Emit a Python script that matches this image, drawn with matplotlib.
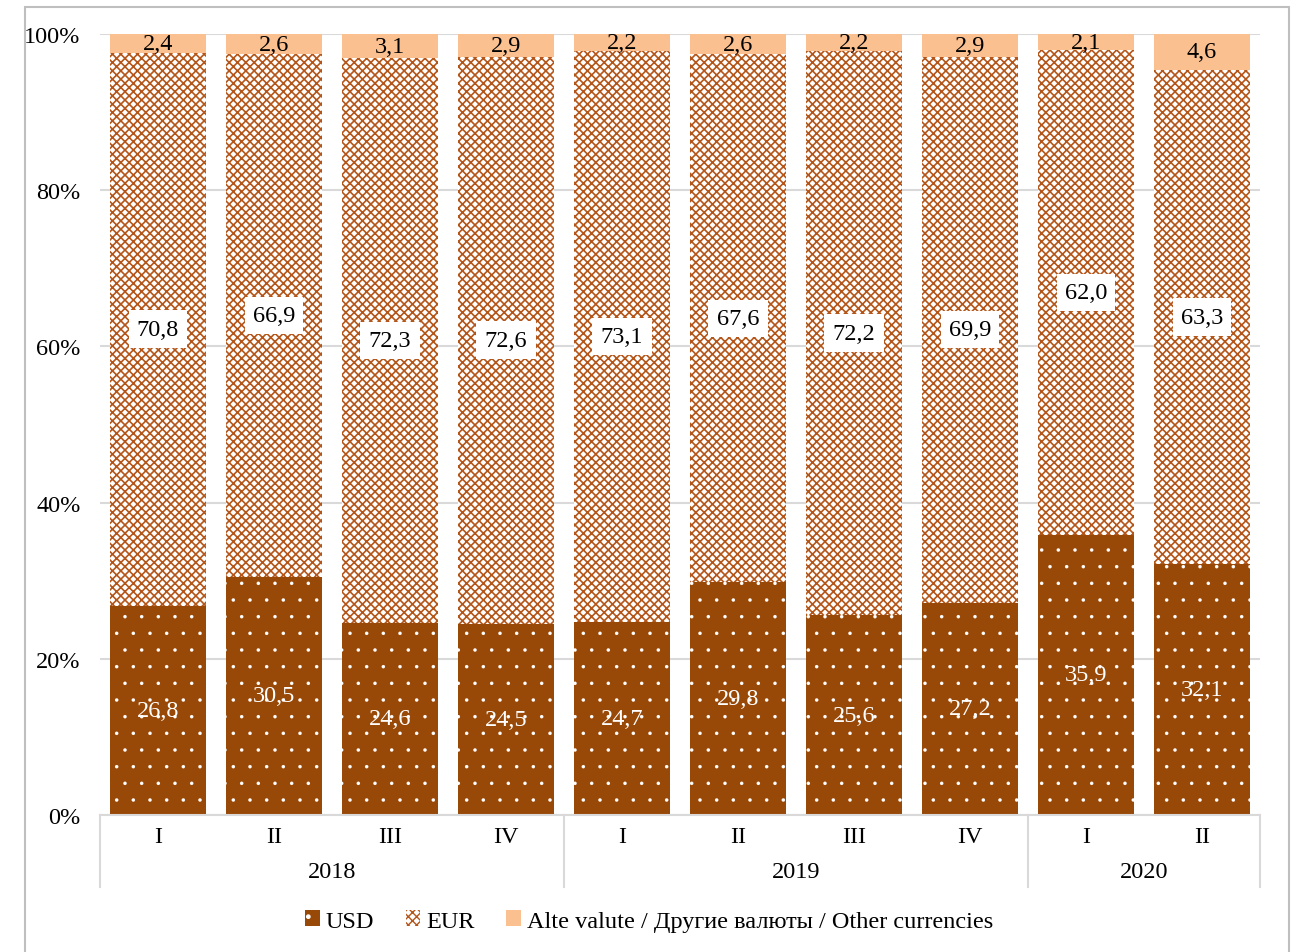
import numpy as np
import matplotlib.pyplot as plt
from matplotlib.patches import Rectangle, Patch
from matplotlib.lines import Line2D
import matplotlib.transforms as mtransforms

plt.rcParams['font.family'] = ['Liberation Serif', 'DejaVu Serif']

# данные
quarters = ['I', 'II', 'III', 'IV', 'I', 'II', 'III', 'IV', 'I', 'II']
years = ['2018', '2019', '2020']
year_sizes = [4, 4, 2]
usd = [26.8, 30.5, 24.6, 24.5, 24.7, 29.8, 25.6, 27.2, 35.9, 32.1]
eur = [70.8, 66.9, 72.3, 72.6, 73.1, 67.6, 72.2, 69.9, 62.0, 63.3]
other = [2.4, 2.6, 3.1, 2.9, 2.2, 2.6, 2.2, 2.9, 2.1, 4.6]

c_usd = '#984807'
c_eur = '#B4561A'
c_other = '#FAC090'
grid_c = '#D9D9D9'

W, H = 1293, 953
fig = plt.figure(figsize=(W / 100, H / 100), dpi=100)
ax = fig.add_axes([100 / W, 1 - 816 / H, 1160 / W, 781 / H])

x = np.arange(len(quarters))
usd = np.array(usd)
eur = np.array(eur)
other = np.array(other)

# мелкие точки для USD
with plt.rc_context({'hatch.linewidth': 0.1}):
    ax.bar(x, usd, width=0.82, color=c_usd, edgecolor='white', hatch='.', linewidth=0, zorder=2)
    h_usd = Patch(facecolor=c_usd, edgecolor='white', hatch='.', linewidth=0)
with plt.rc_context({'hatch.linewidth': 1.2}):
    ax.bar(x, eur, bottom=usd, width=0.82, color='white', edgecolor=c_eur, hatch='xxxx',
           linewidth=0, zorder=2)
    h_eur = Patch(facecolor='white', edgecolor=c_eur, hatch='xxxx', linewidth=0)
ax.bar(x, other, bottom=usd + eur, width=0.82, color=c_other, linewidth=0, zorder=2)

fs = 17.5
for i in x:
    ax.text(i, usd[i] / 2, f'{usd[i]:.1f}'.replace('.', ','), ha='center', va='center',
            color='white', fontsize=fs, zorder=3)
    ax.text(i, usd[i] + eur[i] / 2, f'{eur[i]:.1f}'.replace('.', ','), ha='center', va='center',
            color='black', fontsize=fs, zorder=3,
            bbox=dict(facecolor='white', edgecolor='none', pad=6))
    ax.text(i, usd[i] + eur[i] + other[i] / 2, f'{other[i]:.1f}'.replace('.', ','),
            ha='center', va='center', color='black', fontsize=fs, zorder=3)

ax.set_xlim(-0.5, len(quarters) - 0.5)
ax.set_ylim(0, 100)
ax.set_yticks(np.arange(0, 101, 20))
ax.set_yticklabels([f'{v}%' for v in range(0, 101, 20)], fontsize=fs)
ax.tick_params(axis='y', length=0, pad=14)
ax.set_xticks([])
for s in ['top', 'right', 'left']:
    ax.spines[s].set_visible(False)
ax.spines['bottom'].set_color(grid_c)
ax.spines['bottom'].set_linewidth(1.5)
ax.yaxis.grid(True, color=grid_c, linewidth=1.5, zorder=0)
ax.set_axisbelow(True)

# подписи кварталов и лет
trans = mtransforms.blended_transform_factory(ax.transData, ax.transAxes)
q_y = -(838 - 816) / 781
y_y = -(873 - 816) / 781
for i, q in enumerate(quarters):
    ax.text(i, q_y, q, transform=trans, ha='center', va='center', fontsize=fs)
start = -0.5
bounds = [start]
for name, n in zip(years, year_sizes):
    ax.text(start + n / 2, y_y, name, transform=trans, ha='center', va='center', fontsize=fs)
    start += n
    bounds.append(start)
for b in bounds:
    ax.add_line(Line2D([b, b], [0, -(888 - 816) / 781], transform=trans, color=grid_c,
                       linewidth=1.5, clip_on=False))

# легенда
handles = [h_usd, h_eur, Patch(facecolor=c_other, linewidth=0)]
labels = ['USD', 'EUR', 'Alte valute / Другие валюты / Other currencies']
fig.legend(handles, labels, loc='center', bbox_to_anchor=(0.502, 1 - 922 / H), ncol=3,
           frameon=False, fontsize=fs, handlelength=0.6, handleheight=0.6,
           handletextpad=0.25, columnspacing=1.3)

# рамка
fig.patches.append(Rectangle((25 / W, -0.05), (1289 - 25) / W, (H - 8) / H + 0.05,
                             transform=fig.transFigure, fill=False, edgecolor='#BFBFBF',
                             linewidth=1.5))

fig.savefig('out.png', dpi=100)
